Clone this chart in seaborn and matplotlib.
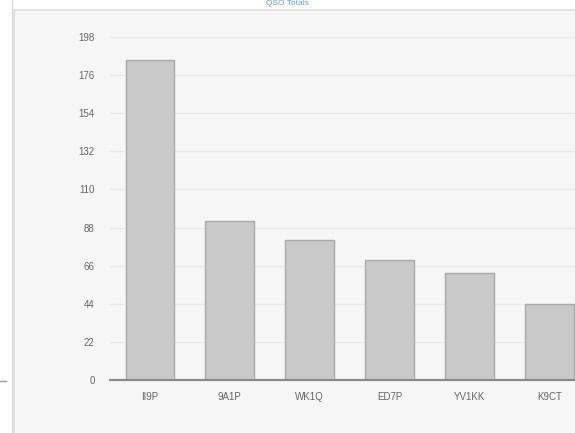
import matplotlib
matplotlib.use("Agg")
import matplotlib.pyplot as plt
import seaborn as sns
import pandas as pd
from matplotlib.patches import Rectangle
from matplotlib.lines import Line2D

stations = ["II9P", "9A1P", "WK1Q", "ED7P", "YV1KK", "K9CT"]
qsos = [185, 92, 81, 69, 62, 44]
yticks = [0, 22, 44, 66, 88, 110, 132, 154, 176, 198]

sns.set_theme(style="white")
plt.rcParams["font.family"] = ["Liberation Sans", "DejaVu Sans"]

fig = plt.figure(figsize=(5.75, 4.33), dpi=100)
fig.patch.set_facecolor("white")

# panel box behind the chart
fig.patches.append(Rectangle((14 / 575, -0.01), 1, (433 - 10) / 433 + 0.01, transform=fig.transFigure,
                             facecolor="#f6f6f6", edgecolor="#dddddd", linewidth=1.2, zorder=-5))
fig.add_artist(Line2D([12 / 575, 12 / 575], [0, 1], transform=fig.transFigure,
                      color="#dddddd", linewidth=1.0, zorder=-4))
fig.add_artist(Line2D([0, 6 / 575], [(433 - 381) / 433] * 2, transform=fig.transFigure,
                      color="#999999", linewidth=1.0, zorder=-4))

ax = fig.add_axes([110 / 575, (433 - 380) / 433, (575 - 110) / 575, (380 - 37) / 433])
ax.set_facecolor("none")
ax.set_zorder(1)

df = pd.DataFrame({"station": stations, "qsos": qsos})
sns.barplot(data=df, x="station", y="qsos", ax=ax, color="#c9c9c9",
            edgecolor="#a9a9a9", linewidth=1.0, width=0.61, saturation=1, zorder=2)

ax.set_xlim(-0.5, 5.32)
ax.set_ylim(0, 198)
ax.set_yticks(yticks)
ax.set_yticklabels([str(v) for v in yticks])
ax.grid(axis="y", color="#e9e9e9", linewidth=0.9, zorder=0)
ax.set_axisbelow(True)
for s in ["top", "right", "left"]:
    ax.spines[s].set_visible(False)
ax.spines["bottom"].set_color("#8a8a8a")
ax.spines["bottom"].set_linewidth(1.6)
ax.spines["bottom"].set_zorder(3)
ax.tick_params(axis="both", length=0, labelsize=7, colors="#666666")
ax.tick_params(axis="y", pad=11)
ax.tick_params(axis="x", pad=9)
ax.set_xlabel("")
ax.set_ylabel("")

fig.text(0.5, 0.999, "QSO Totals", ha="center", va="top", fontsize=6, color="#6699cc")

fig.savefig("out.png", dpi=100)
